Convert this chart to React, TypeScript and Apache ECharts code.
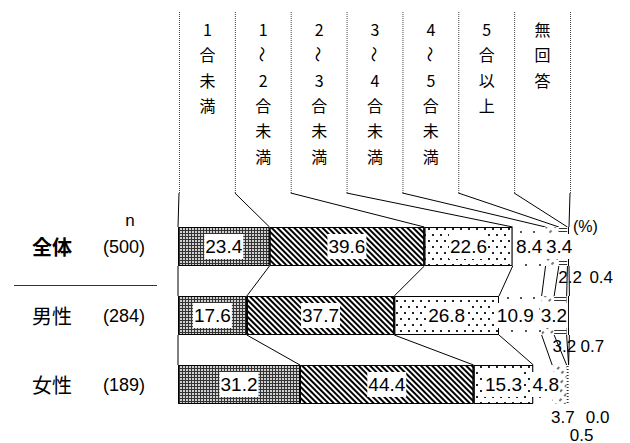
import React, { useEffect, useRef } from 'react';
import * as echarts from 'echarts';

// ---- data ----
const categories = ['全体', '男性', '女性'];
const sampleSizes = ['(500)', '(284)', '(189)'];
const responses = ['1合未満', '1～2合未満', '2～3合未満', '3～4合未満', '4～5合未満', '5合以上', '無回答'];

const lessThan1 = [23.4, 17.6, 31.2];
const from1to2 = [39.6, 37.7, 44.4];
const from2to3 = [22.6, 26.8, 15.3];
const from3to4 = [8.4, 10.9, 4.8];
const from4to5 = [3.4, 3.2, 3.7];
const over5 = [2.2, 3.2, 0.5];
const noAnswer = [0.4, 0.7, 0.0];

const seriesValues = [lessThan1, from1to2, from2to3, from3to4, from4to5, over5, noAnswer];

// ---- styling ----
const CJK = '"Noto Sans CJK JP", "Noto Sans CJK SC", sans-serif';
const LAT = '"Liberation Sans", Arial, sans-serif';
const BAR_W = 39;

// labels drawn below the bar: key "series-row" -> [dx, distance]
const outsideLabelLayout: Record<string, [number, number]> = {
  '5-0': [7, 2.5],
  '6-0': [33, 2.5],
  '5-1': [4, 3],
  '6-1': [24.5, 3],
  '4-2': [3.5, 4.5],
  '5-2': [14, 22.5],
  '6-2': [29, 4.5],
};
// horizontal nudges of labels kept inside the bar
const insideLabelShift: Record<string, number> = {
  '4-0': 7,
  '3-1': -5,
  '4-1': 6,
  '3-2': 3,
};

const decals: any[] = [
  { symbol: 'rect', symbolSize: 1, color: '#d0d0d0', backgroundColor: '#333333', dashArrayX: [2, 1], dashArrayY: [2, 1], rotation: 0 },
  { symbol: 'rect', symbolSize: 1, color: '#000000', backgroundColor: '#ffffff', dashArrayX: [1, 0], dashArrayY: [1.7, 1.8], rotation: Math.PI / 4 },
  { symbol: 'rect', symbolSize: 1, color: '#222222', backgroundColor: '#ffffff', dashArrayX: [[1.5, 5.5], [0, 3.5, 1.5, 2]], dashArrayY: [1.5, 3.5], rotation: 0 },
  { symbol: 'rect', symbolSize: 1, color: '#555555', backgroundColor: '#ffffff', dashArrayX: [[1.5, 11], [0, 6.25, 1.5, 4.75]], dashArrayY: [1.5, 9], rotation: 0 },
  { symbol: 'rect', symbolSize: 1, color: '#777777', backgroundColor: '#ffffff', dashArrayX: [3, 4], dashArrayY: [1.2, 4], rotation: -Math.PI / 4 },
  { symbol: 'rect', symbolSize: 1, color: '#333333', backgroundColor: '#ffffff', dashArrayX: [1, 0], dashArrayY: [1, 2], rotation: 0 },
  { symbol: 'rect', symbolSize: 1, color: '#000000', backgroundColor: '#ffffff', dashArrayX: [1, 1], dashArrayY: [1, 0], rotation: 0 },
];

export default function App() {
  const ref = useRef<HTMLDivElement>(null);

  useEffect(() => {
    if (!ref.current) return;
    const chart = echarts.init(ref.current, undefined, { renderer: 'svg' });

    const barSeries = seriesValues.map((vals, si) => ({
      type: 'bar',
      name: responses[si],
      stack: 'total',
      barWidth: BAR_W,
      emphasis: { disabled: true },
      itemStyle: {
        color: decals[si].backgroundColor,
        decal: decals[si],
        borderColor: si < 3 ? '#000' : 'transparent',
        borderWidth: si < 3 ? 1 : 0,
      },
      label: {
        show: true,
        position: 'inside',
        color: '#000',
        fontFamily: LAT,
        fontSize: 19,
        backgroundColor: '#fff',
        padding: [3, 1],
        formatter: (p: any) => Number(p.value).toFixed(1),
      },
      data: vals.map((v, ri) => {
        const key = `${si}-${ri}`;
        const o = outsideLabelLayout[key];
        if (o) {
          return {
            value: v,
            label: {
              position: 'bottom',
              distance: o[1],
              offset: [o[0], 0],
              backgroundColor: 'transparent',
              padding: 0,
              fontSize: 17,
            },
          };
        }
        const s = insideLabelShift[key];
        if (s !== undefined) return { value: v, label: { offset: [s, 0] } };
        return v;
      }),
    }));

    chart.setOption({
      animation: false,
      grid: { left: 178, right: 61, top: 212, bottom: 24, containLabel: false },
      xAxis: { type: 'value', min: 0, max: 100, show: false },
      yAxis: {
        type: 'category',
        data: categories,
        inverse: true,
        axisLine: { show: false },
        axisTick: { show: false },
        splitLine: { show: false },
        axisLabel: {
          margin: 33,
          formatter: (value: string, idx: number) => `{${idx === 0 ? 'b' : 'a'}|${value}}{n|${sampleSizes[idx]}}`,
          rich: {
            a: { width: 71, align: 'left', fontSize: 20, fontFamily: CJK, color: '#000' },
            b: { width: 71, align: 'left', fontSize: 20, fontWeight: 'bold', fontFamily: CJK, color: '#000' },
            n: { fontSize: 18, fontFamily: LAT, color: '#000' },
          },
        },
      },
      series: barSeries,
    });

    const px = (v: number, row: number) => chart.convertToPixel({ gridIndex: 0 }, [v, row]) as number[];
    const half = BAR_W / 2;
    const rowY = categories.map((_, r) => px(0, r)[1]);
    const cum = categories.map((_, r) => {
      let s = 0;
      const arr = [0];
      seriesValues.forEach((vs) => {
        s += vs[r];
        arr.push(s);
      });
      return arr;
    });

    const x0 = px(0, 0)[0];
    const x1 = px(100, 0)[0];
    const colW = (x1 - x0) / responses.length;
    const HEADER_TOP = 12;
    const HEADER_BOTTOM = 193;
    const sepX = cum[0].map((_, i) => x0 + 1.5 + i * colW);

    const g: any[] = [];
    sepX.forEach((sx, i) => {
      g.push({
        type: 'line', silent: true,
        shape: { x1: sx, y1: HEADER_TOP, x2: sx, y2: HEADER_BOTTOM },
        style: { stroke: '#444', lineWidth: 1, lineDash: [1, 1] },
      });
      g.push({
        type: 'line', silent: true,
        shape: { x1: sx - 0.5, y1: HEADER_BOTTOM, x2: px(cum[0][i], 0)[0], y2: rowY[0] - half },
        style: { stroke: '#000', lineWidth: 1 },
      });
    });

    for (let r = 0; r < categories.length - 1; r++) {
      cum[r].forEach((c, i) => {
        g.push({
          type: 'line', silent: true,
          shape: { x1: px(c, r)[0], y1: rowY[r] + half, x2: px(cum[r + 1][i], r + 1)[0], y2: rowY[r + 1] - half },
          style: { stroke: '#000', lineWidth: 1 },
        });
      });
    }

    responses.forEach((label, i) => {
      const cx = (sepX[i] + sepX[i + 1]) / 2;
      label.split('').forEach((ch, k) => {
        const cy = 29 + k * 25.3;
        const isWave = ch === '～';
        g.push({
          type: 'text', silent: true,
          x: cx, y: cy,
          rotation: isWave ? -Math.PI / 2 : 0,
          style: {
            text: ch, x: 0, y: 0,
            textAlign: 'center', textVerticalAlign: 'middle',
            fill: '#000', font: `16px ${CJK}`,
          },
        });
      });
    });

    g.push({
      type: 'text', silent: true,
      style: { text: 'n', x: 130, y: 220, textAlign: 'center', textVerticalAlign: 'middle', fill: '#000', font: `17px ${LAT}` },
    });
    g.push({
      type: 'text', silent: true,
      style: { text: '(%)', x: 573, y: 226, textAlign: 'left', textVerticalAlign: 'middle', fill: '#000', font: `16px ${LAT}` },
    });
    g.push({
      type: 'line', silent: true,
      shape: { x1: 14, y1: 285.5, x2: 157, y2: 285.5 },
      style: { stroke: '#333', lineWidth: 1 },
    });

    chart.setOption({ graphic: g });

    return () => chart.dispose();
  }, []);

  return (
    <div
      ref={ref}
      style={{ position: 'absolute', left: 0, top: 0, width: 630, height: 443, background: '#fff' }}
    />
  );
}
